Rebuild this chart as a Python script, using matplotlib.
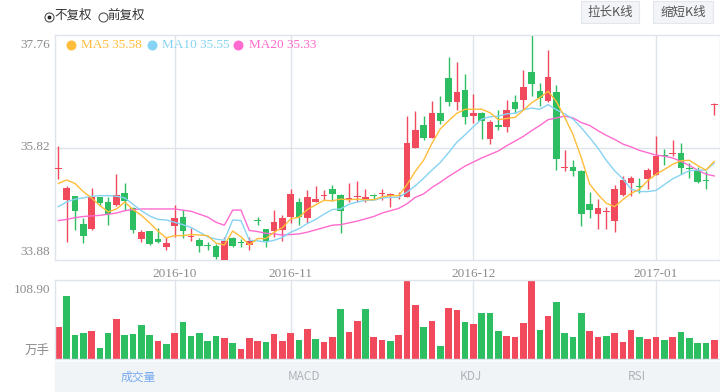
import matplotlib
matplotlib.use("Agg")
import matplotlib.pyplot as plt
from matplotlib import transforms
from matplotlib.patches import Rectangle
from matplotlib.lines import Line2D

# ---------------- data ----------------
opens = [35.45, 34.91, 34.98, 34.50, 34.41, 34.96, 34.88, 34.82, 35.04, 34.77,
         34.24, 34.38, 34.25, 34.11, 34.47, 34.62, 34.27, 34.22, 34.125, 34.12,
         33.88, 34.26, 34.175, 34.14, 34.56, 34.41, 34.38, 34.40, 34.63, 34.88,
         34.60, 34.88, 34.98, 35.10, 35.00, 34.93, 34.96, 34.94, 34.99, 35.01,
         34.99, 34.98, 34.96, 35.82, 36.21, 35.98, 36.42, 37.02, 36.61, 36.81,
         36.37, 36.42, 35.97, 36.19, 36.18, 36.61, 36.64, 37.12, 36.80, 36.63,
         36.78, 35.47, 35.48, 35.42, 34.85, 34.67, 34.71, 34.56, 35.00, 35.20,
         35.15, 35.28, 35.34, 35.68, 35.71, 35.72, 35.47, 35.43, 35.25, 36.55]
closes = [35.46, 35.13, 34.73, 34.30, 34.96, 34.86, 34.68, 35.00, 34.90, 34.39,
          34.37, 34.16, 34.19, 34.17, 34.60, 34.38, 34.30, 34.12, 34.12, 33.94,
          34.21, 34.12, 34.165, 34.21, 34.55, 34.21, 34.53, 34.61, 35.02, 34.62,
          34.97, 34.93, 34.99, 35.01, 34.72, 34.94, 34.99, 34.95, 34.98, 35.02,
          35.00, 34.99, 35.89, 36.12, 35.98, 36.42, 36.28, 36.61, 36.78, 36.34,
          36.42, 36.28, 36.26, 36.18, 36.47, 36.49, 36.86, 36.91, 36.67, 37.03,
          35.62, 35.48, 35.41, 34.67, 34.74, 34.77, 34.72, 35.11, 35.26, 35.29,
          35.14, 35.43, 35.67, 35.67, 35.72, 35.46, 35.45, 35.23, 35.24, 36.57]
highs = [35.85, 35.16, 34.98, 34.60, 35.12, 34.97, 34.97, 35.37, 35.20, 34.79,
         34.40, 34.38, 34.44, 34.28, 34.82, 34.75, 34.44, 34.26, 34.19, 34.16,
         34.28, 34.28, 34.24, 34.28, 34.63, 34.42, 34.74, 34.65, 35.10, 34.95,
         35.09, 35.16, 35.09, 35.18, 35.02, 35.20, 35.24, 35.11, 35.02, 35.10,
         35.03, 35.06, 36.37, 36.45, 36.36, 36.63, 36.70, 37.38, 37.30, 37.09,
         36.74, 36.44, 36.29, 36.47, 36.64, 36.72, 37.15, 37.76, 36.93, 37.50,
         36.90, 35.78, 35.60, 35.43, 35.06, 34.93, 34.80, 35.18, 35.33, 35.32,
         35.29, 35.46, 36.01, 35.80, 35.95, 35.89, 35.55, 35.49, 35.41, 36.58]
lows = [35.28, 34.19, 34.40, 34.18, 34.40, 34.81, 34.49, 34.81, 34.74, 34.34,
        34.19, 34.14, 34.18, 34.06, 34.28, 34.26, 34.21, 34.01, 34.05, 33.89,
        33.88, 34.11, 34.11, 34.05, 34.49, 34.11, 34.28, 34.21, 34.51, 34.49,
        34.52, 34.88, 34.91, 34.90, 34.34, 34.88, 34.88, 34.88, 34.93, 34.91,
        34.80, 34.94, 34.96, 35.82, 35.95, 35.98, 36.23, 36.54, 36.47, 36.23,
        36.24, 35.96, 35.88, 36.13, 36.08, 36.42, 36.48, 36.70, 36.54, 36.61,
        35.43, 35.41, 35.32, 34.46, 34.60, 34.41, 34.41, 34.36, 34.99, 34.99,
        35.03, 35.11, 35.34, 35.52, 35.67, 35.36, 35.29, 35.21, 35.10, 36.38]
ma5 = [35.20, 35.26, 35.20, 35.06, 34.95, 34.82, 34.71, 34.76, 34.88, 34.75,
       34.65, 34.52, 34.38, 34.26, 34.30, 34.30, 34.32, 34.31, 34.30, 34.17,
       34.14, 34.38, 34.28, 34.14, 34.25, 34.25, 34.36, 34.44, 34.59, 34.62,
       34.75, 34.83, 34.91, 34.90, 34.93, 34.92, 34.93, 34.92, 34.92, 34.97,
       34.99, 34.99, 35.18, 35.41, 35.60, 35.89, 36.14, 36.28, 36.41, 36.48,
       36.48, 36.48, 36.42, 36.30, 36.32, 36.34, 36.46, 36.59, 36.68, 36.79,
       36.61, 36.34, 36.04, 35.64, 35.19, 35.01, 34.86, 34.80, 34.92, 35.03,
       35.10, 35.25, 35.36, 35.44, 35.53, 35.59, 35.60, 35.51, 35.43, 35.58]
ma10 = [34.80, 34.88, 34.93, 34.95, 34.98, 34.99, 34.99, 34.98, 34.95, 34.84,
        34.73, 34.64, 34.58, 34.57, 34.53, 34.49, 34.44, 34.36, 34.28, 34.24,
        34.22, 34.57, 34.56, 34.22, 34.21, 34.19, 34.22, 34.27, 34.36, 34.42,
        34.51, 34.58, 34.67, 34.75, 34.76, 34.84, 34.88, 34.91, 34.91, 34.95,
        34.96, 34.96, 35.05, 35.16, 35.29, 35.43, 35.56, 35.73, 35.91, 36.04,
        36.18, 36.31, 36.35, 36.36, 36.40, 36.41, 36.47, 36.50, 36.48, 36.56,
        36.47, 36.40, 36.31, 36.16, 35.99, 35.81, 35.60, 35.42, 35.28, 35.10,
        35.06, 35.06, 35.08, 35.18, 35.28, 35.35, 35.42, 35.43, 35.43, 35.55]
ma20 = [34.56, 34.58, 34.61, 34.63, 34.64, 34.65, 34.67, 34.69, 34.73, 34.75,
        34.76, 34.76, 34.76, 34.76, 34.76, 34.74, 34.72, 34.67, 34.62, 34.53,
        34.48, 34.74, 34.74, 34.39, 34.37, 34.34, 34.33, 34.31, 34.32, 34.33,
        34.36, 34.40, 34.44, 34.48, 34.49, 34.52, 34.55, 34.59, 34.63, 34.69,
        34.73, 34.77, 34.85, 34.96, 35.02, 35.13, 35.22, 35.32, 35.41, 35.50,
        35.57, 35.64, 35.70, 35.76, 35.85, 35.93, 36.01, 36.11, 36.20, 36.30,
        36.33, 36.36, 36.33, 36.25, 36.20, 36.11, 36.03, 35.96, 35.88, 35.83,
        35.77, 35.73, 35.69, 35.67, 35.64, 35.58, 35.51, 35.43, 35.36, 35.33]
volumes = [44.6, 86.8, 32.6, 36.3, 38.1, 15.6, 36.3, 54.7, 32.6, 34.0,
           46.9, 32.6, 24.4, 20.7, 35.4, 50.5, 31.7, 35.8, 24.4, 31.7,
           29.4, 21.6, 13.8, 28.9, 25.3, 23.4, 34.0, 24.8, 35.4, 26.6,
           41.4, 27.6, 23.0, 29.9, 69.4, 36.8, 52.8, 68.9, 29.9, 25.7,
           24.8, 33.1, 108.9, 74.4, 44.6, 52.8, 18.4, 69.8, 67.1, 51.5,
           48.2, 63.9, 63.0, 38.6, 32.2, 30.3, 49.6, 107.5, 40.4, 59.3,
           79.0, 35.4, 30.3, 63.0, 38.6, 30.3, 31.2, 36.3, 23.4, 39.5,
           29.9, 28.0, 30.8, 26.2, 29.9, 37.2, 28.5, 22.1, 22.1, 26.6]
vol_up = [1, 0, 0, 0, 1, 0, 0, 1, 0, 0,
          0, 0, 1, 0, 1, 0, 0, 0, 0, 0,
          1, 0, 1, 1, 1, 0, 1, 1, 1, 0,
          1, 0, 1, 1, 0, 1, 1, 0, 1, 1,
          0, 1, 1, 1, 0, 1, 0, 1, 1, 0,
          1, 0, 0, 0, 1, 1, 1, 1, 0, 1,
          0, 0, 0, 0, 1, 1, 0, 1, 1, 1,
          0, 1, 1, 0, 1, 0, 0, 0, 0, 1]
date_labels = ["2016-10", "2016-11", "2016-12", "2017-01"]
date_index = [14, 28, 50, 72]
tab_names = ["成交量", "MACD", "KDJ", "RSI"]

# ---------------- style ----------------
W, H = 720, 392
fig = plt.figure(figsize=(7.2, 3.92), dpi=100)
fig.patch.set_facecolor("white")


def fx(x):
    return x / W


def fy(y):
    return 1 - y / H


def dot(x, y, size, face, edge=None, lw=0.0):
    fig.add_artist(Line2D([fx(x)], [fy(y)], transform=fig.transFigure,
                          marker="o", markersize=size, markerfacecolor=face,
                          markeredgecolor=edge if edge else face,
                          markeredgewidth=lw, linestyle="none", zorder=6))


RED = "#f04a5c"
GREEN = "#2cbe60"
GRID = "#dfe4ea"
TXT = "#8c8c8c"
C5, C10, C20 = "#ffbd3a", "#86d3f3", "#ff6bcf"
SERIF = ["Liberation Serif", "DejaVu Serif"]
CJK = ["Noto Sans CJK SC", "DejaVu Sans"]

n = len(closes)
idx = list(range(n))

# ---------------- main candle axes ----------------
ax = fig.add_axes([fx(55), fy(260), (720 - 55) / W, (260 - 35) / H])
ymin, ymax = min(lows), max(highs)
ymid = (ymin + ymax) / 2
ax.set_xlim(-0.4, n - 0.3)
ax.set_ylim(ymin, ymax)
for s in ax.spines.values():
    s.set_color(GRID)
    s.set_linewidth(1.0)
ax.set_xticks([])
ax.set_yticks([])
ax.axhline(ymid, color=GRID, lw=1.0, zorder=1)
for di in date_index:
    ax.axvline(di, color=GRID, lw=1.0, zorder=1)

cols = [RED if c >= o else GREEN for o, c in zip(opens, closes)]
ax.vlines(idx, lows, highs, colors=cols, linewidth=1.0, zorder=2)
bottoms = [min(o, c) for o, c in zip(opens, closes)]
heights = [max(abs(c - o), 0.022) for o, c in zip(opens, closes)]
ax.bar(idx, heights, bottom=bottoms, width=0.8, color=cols, linewidth=0, zorder=3)

ax.plot(idx, ma20, color=C20, lw=1.0, zorder=4)
ax.plot(idx, ma10, color=C10, lw=1.0, zorder=4)
ax.plot(idx, ma5, color=C5, lw=1.0, zorder=4)

# y labels (top / middle / bottom)
bt = transforms.blended_transform_factory(ax.transAxes, ax.transData)
off = lambda dy: bt + transforms.ScaledTranslation(-5 / 100, -dy / 100, fig.dpi_scale_trans)
ax.text(0, ymax, f"{ymax:.2f}", transform=off(10), ha="right", va="center",
        fontsize=9.5, color=TXT, family=SERIF)
ax.text(0, ymid, f"{ymid:.2f}", transform=off(0), ha="right", va="center",
        fontsize=9.5, color=TXT, family=SERIF)
ax.text(0, ymin, f"{ymin:.2f}", transform=off(-8), ha="right", va="center",
        fontsize=9.5, color=TXT, family=SERIF)

# legend
leg = [("MA5", ma5[-1], C5, 71, 81), ("MA10", ma10[-1], C10, 152, 162),
       ("MA20", ma20[-1], C20, 238, 249)]
for name, val, col, cx, tx in leg:
    dot(cx, 45, 7.2, col)
    fig.text(fx(tx), fy(45), f"{name} {val:.2f}", ha="left", va="center",
             fontsize=9.5, color=col, family=SERIF)

# ---------------- volume axes ----------------
axv = fig.add_axes([fx(55), fy(359), (720 - 55) / W, (359 - 280) / H])
axv.set_xlim(-0.4, n - 0.3)
axv.set_ylim(0, max(volumes))
for s in axv.spines.values():
    s.set_color(GRID)
    s.set_linewidth(1.0)
axv.set_xticks([])
axv.set_yticks([])
for di in date_index:
    axv.axvline(di, color=GRID, lw=1.0, zorder=1)
vcols = [RED if u else GREEN for u in vol_up]
axv.bar(idx, volumes, width=0.8, color=vcols, linewidth=0, zorder=2)

fig.text(fx(50), fy(290), f"{max(volumes):.2f}", ha="right", va="center",
         fontsize=9.5, color=TXT, family=SERIF)
fig.text(fx(50), fy(350), "万手", ha="right", va="center",
         fontsize=9, color=TXT, family=CJK)

# date labels between panels
bx = transforms.blended_transform_factory(axv.transData, fig.transFigure)
for lab, di in zip(date_labels, date_index):
    fig.text(di, fy(274), lab, transform=bx, ha="center", va="center",
             fontsize=9.5, color=TXT, family=SERIF)

# ---------------- tabs ----------------
fig.add_artist(Rectangle((fx(55), 0), (720 - 55) / W, 30 / H,
                         transform=fig.transFigure, color="#f1f4f6", zorder=0))
tw = (720 - 55) / len(tab_names)
for k, name in enumerate(tab_names):
    fig.text(fx(55 + tw * (k + 0.5)), fy(377), name, ha="center", va="center",
             fontsize=8.5, color="#76aaf0" if k == 0 else "#aeb4bb", family=CJK)

# ---------------- top controls ----------------
dot(48.5, 17, 6.5, "white", "#555555", 0.8)
dot(48.5, 17, 2.8, "#222222")
fig.text(fx(54), fy(15), "不复权", ha="left", va="center", fontsize=9,
         color="#333333", family=CJK)
dot(102.5, 17, 6.5, "white", "#555555", 0.8)
fig.text(fx(107), fy(15), "前复权", ha="left", va="center", fontsize=9,
         color="#333333", family=CJK)

for x0, x1, lab in [(581, 639, "拉长K线"), (653, 713, "缩短K线")]:
    fig.add_artist(Rectangle((fx(x0), fy(23)), (x1 - x0) / W, 22 / H,
                             transform=fig.transFigure, facecolor="#f2f4f7",
                             edgecolor="#e3e7ec", lw=0.8))
    fig.text(fx((x0 + x1) / 2), fy(12), lab, ha="center", va="center",
             fontsize=9, color="#555555", family=CJK)

fig.savefig("out.png", dpi=100, facecolor="white")
